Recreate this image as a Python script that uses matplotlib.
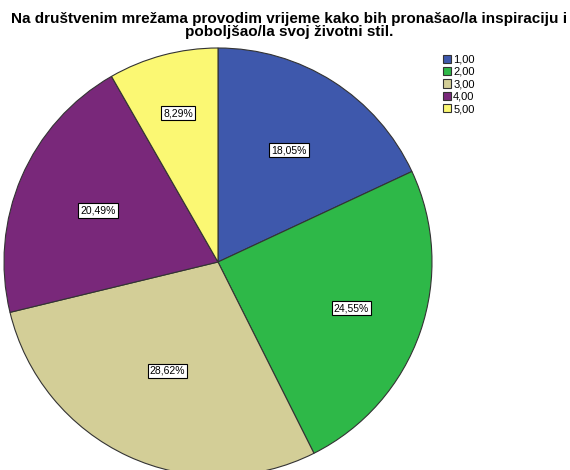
import numpy as np
import matplotlib
matplotlib.use("Agg")
import matplotlib.pyplot as plt
from matplotlib.patches import Patch

categories = ["1,00", "2,00", "3,00", "4,00", "5,00"]
percentages = [18.05, 24.55, 28.62, 20.49, 8.29]
colors = ["#3E58AC", "#2EB848", "#D3CE97", "#79287A", "#FBF873"]
label_radius = [0.62, 0.66, 0.56, 0.61, 0.72]

plt.rcParams['font.family'] = ['Liberation Sans', 'DejaVu Sans']

fig = plt.figure(figsize=(5.7, 4.7), dpi=100)
W, H = 570, 470
cx, cy, r = 218, 262, 214
ax = fig.add_axes([(cx - r) / W, (H - cy - r) / H, 2 * r / W, 2 * r / H])

wedges, _ = ax.pie(percentages, colors=colors, startangle=90, counterclock=False,
                   wedgeprops=dict(edgecolor="#333333", linewidth=0.8))
ax.set_xlim(-1, 1)
ax.set_ylim(-1, 1)
ax.set_aspect("equal")

for w, p, lr in zip(wedges, percentages, label_radius):
    ang = np.deg2rad((w.theta1 + w.theta2) / 2)
    ax.text(lr * np.cos(ang), lr * np.sin(ang), f"{p:.2f}%".replace(".", ","),
            ha="center", va="center", fontsize=7.5,
            bbox=dict(boxstyle="square,pad=0.2", fc="white", ec="black", lw=0.8))

fig.text(289 / W, 1 - 12 / H,
         "Na društvenim mrežama provodim vrijeme kako bih pronašao/la inspiraciju i\npoboljšao/la svoj životni stil.",
         ha="center", va="top", fontsize=11, fontweight="bold", linespacing=0.88)

handles = [Patch(facecolor=c, edgecolor="#333333", linewidth=0.8) for c in colors]
fig.legend(handles, categories, loc="upper left", bbox_to_anchor=(437 / W, 1 - 49 / H),
           frameon=False, fontsize=8, handlelength=0.8, handleheight=0.8,
           handletextpad=0.15, labelspacing=0.2, borderpad=0)

fig.savefig("out.png", dpi=100)
